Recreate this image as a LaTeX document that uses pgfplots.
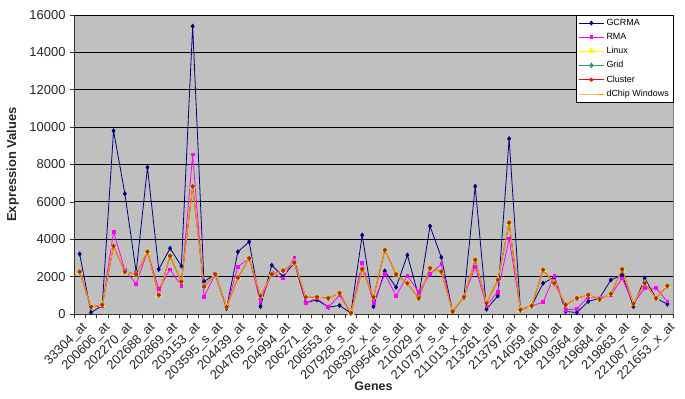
\documentclass[border=0pt]{standalone}
\usepackage{pgfplots}
\pgfplotsset{compat=1.18}
\usepackage{pgfplotstable}
\usepackage{fontspec}
\setmainfont{Liberation Sans}

\definecolor{gcrma}{HTML}{000080}
\definecolor{rma}{HTML}{FF00FF}
\definecolor{linux}{HTML}{FFFF00}
\definecolor{gridc}{HTML}{339966}
\definecolor{cluster}{HTML}{FF0000}
\definecolor{dchip}{HTML}{FF9900}
\definecolor{plotbg}{HTML}{C0C0C0}

\pgfplotstableread{
x g r c
0 3210 2265 2265
1 80 400 367
2 450 410 490
3 9800 4400 3635
4 6440 2350 2265
5 2250 1610 2125
6 7850 3330 3330
7 2390 1340 1020
8 3510 2390 3100
9 2570 1500 1735
10 15400 8540 6830
11 1735 933 1466
12 2125 2125 2125
13 300 367 367
14 3330 2530 1945
15 3865 2980 2980
16 400 670 970
17 2605 2180 2125
18 2000 1910 2320
19 2750 3030 2745
20 600 580 900
21 757 860 900
22 367 367 845
23 455 1000 1113
24 50 50 50
25 4220 2745 2390
26 400 580 900
27 2300 2140 3420
28 1430 970 2125
29 3155 2035 1645
30 933 1165 845
31 4700 2140 2445
32 3030 2660 2265
33 135 135 135
34 900 900 900
35 6830 2530 2890
36 260 437 580
37 970 1200 1820
38 9380 4045 4880
39 220 220 220
40 437 437 437
41 1645 634 2355
42 1965 2035 1645
43 135 224 490
44 80 260 845
45 670 933 1020
46 845 845 790
47 1820 1020 1075
48 2090 1910 2390
49 400 545 545
50 1910 1380 1645
51 845 1380 845
52 530 670 1500
}\data

\begin{document}
\begin{tikzpicture}
\begin{axis}[
  width=599bp, height=299bp, scale only axis,
  xmin=-0.5, xmax=52.5, ymin=0, ymax=16000,
  axis background/.style={fill=plotbg, draw=gray},
  axis x line*=bottom, axis y line*=left,
  axis line style={black!80, line width=0.8pt, -},
  ytick={0,2000,...,16000},
  scaled y ticks=false,
  ymajorgrids, major grid style={black, line width=0.8pt},
  /pgf/number format/assume math mode=true,
  yticklabel style={/pgf/number format/1000 sep={}, font=\fontsize{13}{13}\selectfont, color=black!85, xshift=-1bp},
  tick align=outside, major tick length=4bp, minor tick length=4bp,
  tick style={black!80, line width=0.6pt},
  xtick={0,2,...,52},
  major x tick style={draw=none},
  minor xtick={-0.5,0.5,...,52.5},
  xticklabels={33304\_at,200606\_at,202270\_at,202688\_at,202869\_at,203153\_at,203595\_s\_at,204439\_at,204769\_s\_at,204994\_at,206271\_at,206553\_at,207928\_s\_at,208392\_x\_at,209546\_s\_at,210029\_at,210797\_s\_at,211013\_x\_at,213261\_at,213797\_at,214059\_at,218400\_at,219364\_at,219684\_at,219863\_at,221087\_s\_at,221653\_x\_at},
  xticklabel style={rotate=45, anchor=north east, inner sep=1bp, font=\fontsize{13}{13}\selectfont, color=black!85, yshift=-2bp},
  xlabel={\textbf{Genes}}, ylabel={\textbf{Expression Values}},
  xlabel style={at={(axis description cs:0.5,-0.241)}, anchor=center, font=\fontsize{12.5}{12.5}\selectfont, color=black!85},
  ylabel style={at={(axis description cs:-0.102,0.5)}, anchor=center, rotate=0, font=\fontsize{13}{13}\selectfont, color=black!85},
  legend style={at={(1,1)}, anchor=north east, draw=black, fill=white, font=\fontsize{9}{10}\selectfont, inner sep=2bp, row sep=2.3bp, legend cell align=left},
  legend image code/.code={\draw[mark repeat=2,mark phase=2] plot coordinates {(0cm,0cm)(0.45cm,0cm)(0.9cm,0cm)};},
  every axis plot/.append style={line width=0.8pt},
]
\addplot[color=gcrma, mark=diamond*, mark size=2bp, mark options={fill=gcrma}] table[x=x,y=g] {\data};
\addlegendentry{GCRMA}
\addplot[color=rma, mark=square*, mark size=1.4bp, mark options={fill=rma}] table[x=x,y=r] {\data};
\addlegendentry{RMA}
\addplot[color=linux, mark=triangle*, mark size=3.2bp, mark options={fill=linux}] table[x=x,y=c] {\data};
\addlegendentry{Linux}
\addplot[color=gridc, mark=diamond*, mark size=2.3bp, mark options={fill=gridc}] table[x=x,y=c] {\data};
\addlegendentry{Grid}
\addplot[color=cluster, mark=asterisk, mark size=2bp, mark options={line width=0.8pt}] table[x=x,y=c] {\data};
\addlegendentry{Cluster}
\addplot[color=dchip, no marks] table[x=x,y=c] {\data};
\addlegendentry{dChip Windows}
\end{axis}
\pgfresetboundingbox
\path (-74bp,-85bp) rectangle (611bp,314bp);
\end{tikzpicture}
\end{document}
